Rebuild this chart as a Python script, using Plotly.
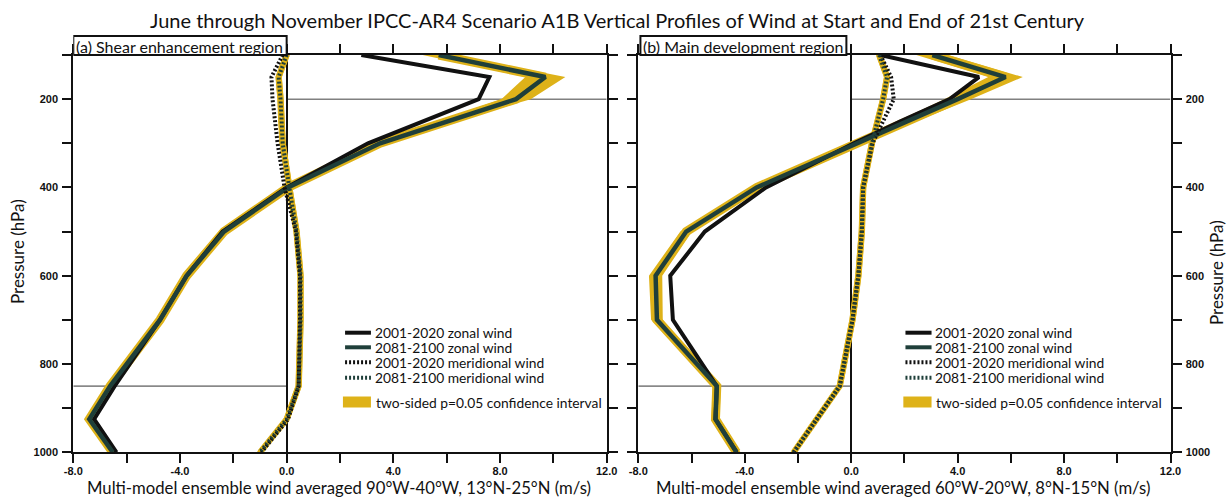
import plotly.graph_objects as go

# ---------------- data ----------------
levels = [100, 150, 200, 250, 300, 400, 500, 600, 700, 850, 925, 1000]

# (a) Shear enhancement region
zonal_2001_a = [2.8, 7.6, 7.2, 5.1, 3.05, 0.0, -2.4, -3.75, -4.75, -6.45, -7.22, -6.38]
zonal_2081_a = [5.7, 9.7, 8.6, 6.0, 3.5, 0.05, -2.35, -3.75, -4.75, -6.62, -7.4, -6.52]
zonal_ci_a = [0.6, 0.75, 0.55, 0.35, 0.25, 0.15, 0.15, 0.15, 0.15, 0.15, 0.15, 0.15]
merid_2001_a = [-0.15, -0.57, -0.53, -0.45, -0.34, -0.08, 0.35, 0.5, 0.5, 0.45, 0.05, -0.95]
merid_2081_a = [0.0, -0.3, -0.23, -0.2, -0.15, 0.1, 0.37, 0.52, 0.52, 0.45, 0.0, -1.0]
merid_ci_a = [0.12] * 12

# (b) Main development region
zonal_2001_b = [1.1, 4.8, 3.7, 1.85, 0.1, -3.2, -5.5, -6.8, -6.7, -5.05, -5.1, -4.3]
zonal_2081_b = [3.05, 5.8, 4.0, 2.1, 0.15, -3.55, -6.2, -7.35, -7.3, -5.05, -5.1, -4.31]
zonal_ci_b = [0.6, 0.65, 0.5, 0.35, 0.25, 0.2, 0.22, 0.25, 0.22, 0.15, 0.15, 0.15]
merid_2001_b = [1.1, 1.5, 1.6, 1.2, 0.8, 0.45, 0.4, 0.27, 0.05, -0.43, -1.3, -2.16]
merid_2081_b = [1.05, 1.35, 1.2, 1.0, 0.78, 0.45, 0.4, 0.27, 0.05, -0.43, -1.3, -2.16]
merid_ci_b = [0.12] * 12

x_ticks = [-8, -6, -4, -2, 0, 2, 4, 6, 8, 10, 12]
x_ticktext = ["-8.0", "", "-4.0", "", "0.0", "", "4.0", "", "8.0", "", "12.0"]
y_ticks = [100, 200, 300, 400, 500, 600, 700, 800, 900, 1000]
y_ticktext = ["", "200", "", "400", "", "600", "", "800", "", "1000"]

title = "June through November IPCC-AR4 Scenario A1B Vertical Profiles of Wind at Start and End of 21st Century"
panel_labels = ["(a) Shear enhancement region", "(b) Main development region"]
x_titles = ["Multi-model ensemble wind averaged 90°W-40°W, 13°N-25°N (m/s)",
            "Multi-model ensemble wind averaged 60°W-20°W, 8°N-15°N (m/s)"]
legend_labels = ["2001-2020 zonal wind", "2081-2100 zonal wind",
                 "2001-2020 meridional wind", "2081-2100 meridional wind",
                 "two-sided p=0.05 confidence interval"]

# ---------------- styling ----------------
W, H = 1227, 498
GOLD = "#DEB219"
GREEN = "#1F3F3A"
BLACK = "#111111"
FONT = "Lato"
DOT = "2px,2px"


def py(ypx):
    return 1 - ypx / H


fig = go.Figure()

panels = [
    dict(xa="x", ya="y", z1=zonal_2001_a, z2=zonal_2081_a, zci=zonal_ci_a,
         m1=merid_2001_a, m2=merid_2081_a, mci=merid_ci_a),
    dict(xa="x2", ya="y2", z1=zonal_2001_b, z2=zonal_2081_b, zci=zonal_ci_b,
         m1=merid_2001_b, m2=merid_2081_b, mci=merid_ci_b),
]


def band(vals, ci, xa, ya):
    lo = [v - c for v, c in zip(vals, ci)]
    hi = [v + c for v, c in zip(vals, ci)]
    fig.add_trace(go.Scatter(x=hi + lo[::-1], y=levels + levels[::-1], fill="toself",
                             fillcolor=GOLD, line=dict(width=0, color=GOLD), mode="lines",
                             xaxis=xa, yaxis=ya, showlegend=False, hoverinfo="skip"))


for p in panels:
    xa, ya = p["xa"], p["ya"]
    band(p["z2"], p["zci"], xa, ya)
    band(p["m2"], p["mci"], xa, ya)
    fig.add_trace(go.Scatter(x=p["z2"], y=levels, mode="lines", line=dict(color=GOLD, width=9),
                             xaxis=xa, yaxis=ya, showlegend=False))
    fig.add_trace(go.Scatter(x=p["m2"], y=levels, mode="lines", line=dict(color=GOLD, width=6),
                             xaxis=xa, yaxis=ya, showlegend=False))
    fig.add_trace(go.Scatter(x=p["z1"], y=levels, mode="lines", line=dict(color=BLACK, width=4),
                             xaxis=xa, yaxis=ya, showlegend=False))
    fig.add_trace(go.Scatter(x=p["z2"], y=levels, mode="lines", line=dict(color=GREEN, width=4.5),
                             xaxis=xa, yaxis=ya, showlegend=False))
    fig.add_trace(go.Scatter(x=p["m1"], y=levels, mode="lines",
                             line=dict(color=BLACK, width=4, dash=DOT),
                             xaxis=xa, yaxis=ya, showlegend=False))
    fig.add_trace(go.Scatter(x=p["m2"], y=levels, mode="lines",
                             line=dict(color=GREEN, width=4, dash=DOT),
                             xaxis=xa, yaxis=ya, showlegend=False))

# axes
x_domains = [[73.3 / W, 606.7 / W], [638.3 / W, 1170.5 / W]]
y_domain = [py(452.3), py(55)]
tickfont = dict(family="Liberation Sans", size=11, color=BLACK, weight="bold")
for i, name in enumerate(["", "2"]):
    fig.update_layout(**{
        "xaxis" + name: dict(domain=x_domains[i], range=[-8, 12], tickmode="array",
                             tickvals=x_ticks, ticktext=x_ticktext, ticks="outside",
                             ticklen=9, tickwidth=2, tickcolor=BLACK, showline=True,
                             linecolor=BLACK, linewidth=2, mirror="ticks", showgrid=False,
                             zeroline=True, zerolinecolor=BLACK, zerolinewidth=1.5,
                             tickfont=tickfont, anchor="y" + name, ticklabelstandoff=-2,
                             automargin=False),
        "yaxis" + name: dict(domain=y_domain, range=[1000, 100], tickmode="array",
                             tickvals=y_ticks, ticktext=y_ticktext, ticks="outside",
                             ticklen=9, tickwidth=2, tickcolor=BLACK, showline=True,
                             linecolor=BLACK, linewidth=2, mirror="ticks", showgrid=False,
                             zeroline=False, tickfont=tickfont, anchor="x" + name,
                             side="left" if i == 0 else "right", ticklabelstandoff=2,
                             automargin=False),
    })

shapes = []
annotations = []
for i, name in enumerate(["", "2"]):
    xr = "x" + name
    yr = "y" + name
    shapes.append(dict(type="line", xref=xr, yref=yr, x0=0, x1=12, y0=200, y1=200,
                       line=dict(color="#808080", width=1.5), layer="below"))
    shapes.append(dict(type="line", xref=xr, yref=yr, x0=-8, x1=0, y0=850, y1=850,
                       line=dict(color="#333333", width=1), layer="below"))
    bx0, bx1 = (-8, 0) if i == 0 else (-7.92, -0.18)
    shapes.append(dict(type="rect", xref=xr, yref="paper", x0=bx0, x1=bx1, y0=py(55), y1=py(36),
                       line=dict(color=BLACK, width=2), fillcolor="white"))
    annotations.append(dict(text=panel_labels[i], xref=xr, yref="paper", x=(bx0 + bx1) / 2,
                            y=py(46), showarrow=False, xanchor="center", yanchor="middle",
                            font=dict(family=FONT, size=16, color=BLACK)))
    annotations.append(dict(text=x_titles[i], xref=xr, yref="paper", x=1.95, y=py(487.5),
                            showarrow=False, xanchor="center", yanchor="middle",
                            font=dict(family=FONT, size=16.7, color=BLACK)))
    lx0, lx1, tx = (2.19, 3.16, 3.24) if i == 0 else (2.04, 3.02, 3.09)
    rows = [332.7, 347.3, 362.3, 377.7]
    styles = [dict(color=BLACK, width=4), dict(color=GREEN, width=4),
              dict(color=BLACK, width=4, dash=DOT), dict(color=GREEN, width=4, dash=DOT)]
    for r, st, lab in zip(rows, styles, legend_labels[:4]):
        shapes.append(dict(type="line", xref=xr, yref="paper", x0=lx0, x1=lx1,
                           y0=py(r), y1=py(r), line=st))
        annotations.append(dict(text=lab, xref=xr, yref="paper", x=tx, y=py(r),
                                showarrow=False, xanchor="left", yanchor="middle",
                                font=dict(family=FONT, size=13.8, color=BLACK)))
    shapes.append(dict(type="rect", xref=xr, yref="paper", x0=lx0 - 0.08, x1=lx1,
                       y0=py(407.5), y1=py(396.5), line=dict(width=0), fillcolor=GOLD))
    annotations.append(dict(text=legend_labels[4], xref=xr, yref="paper", x=tx + 0.02, y=py(402),
                            showarrow=False, xanchor="left", yanchor="middle",
                            font=dict(family=FONT, size=13.8, color=BLACK)))

annotations.append(dict(text="Pressure (hPa)", xref="paper", yref="paper", x=18 / W, y=py(252),
                        showarrow=False, textangle=-90, xanchor="center", yanchor="middle",
                        font=dict(family=FONT, size=17, color=BLACK)))
annotations.append(dict(text="Pressure (hPa)", xref="paper", yref="paper", x=1216 / W, y=py(273),
                        showarrow=False, textangle=-90, xanchor="center", yanchor="middle",
                        font=dict(family=FONT, size=17, color=BLACK)))
annotations.append(dict(text=title, xref="paper", yref="paper", x=617.5 / W, y=py(20),
                        showarrow=False, xanchor="center", yanchor="middle",
                        font=dict(family=FONT, size=20, color=BLACK)))

fig.update_layout(width=W, height=H, margin=dict(l=0, r=0, t=0, b=0, autoexpand=False),
                  paper_bgcolor="white", plot_bgcolor="white", showlegend=False,
                  shapes=shapes, annotations=annotations)

fig.write_html("out.html", config={"displayModeBar": False},
               post_script="document.body.style.margin='0';document.body.style.overflow='hidden';")
